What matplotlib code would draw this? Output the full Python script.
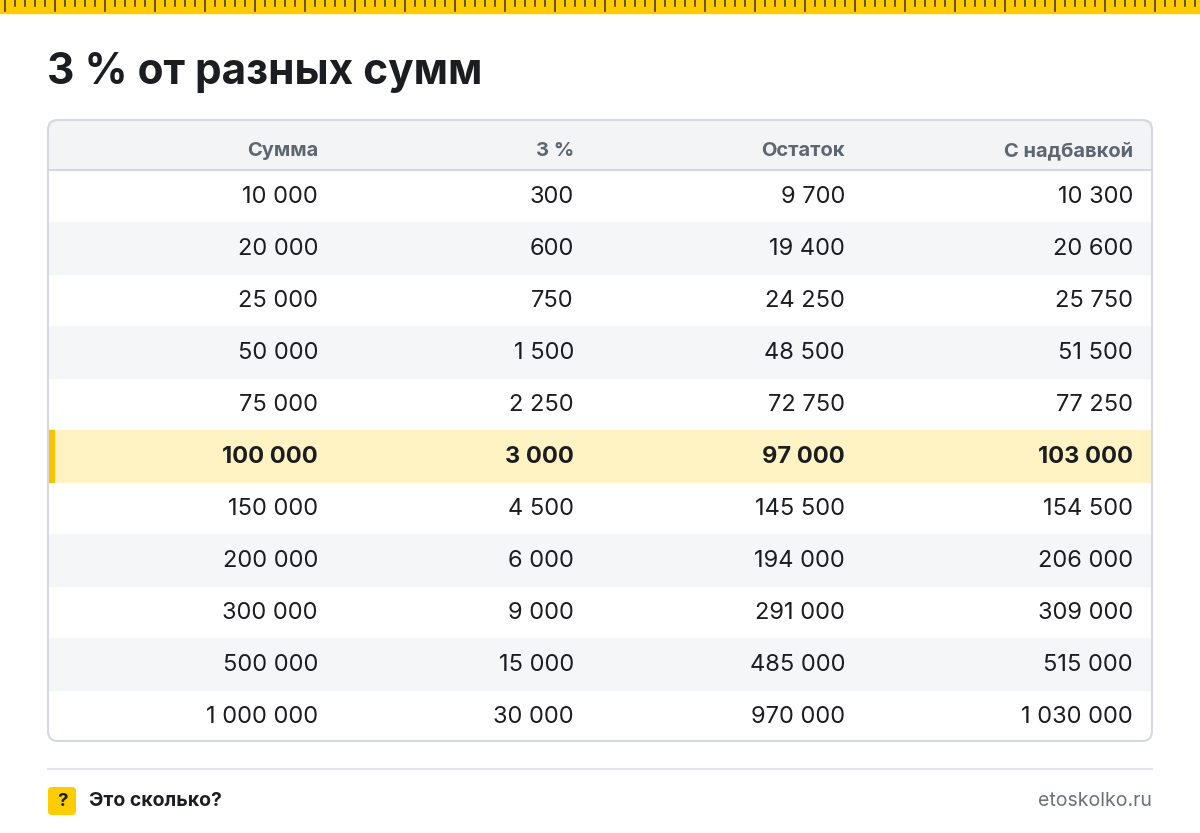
import matplotlib.pyplot as plt
from matplotlib.patches import FancyBboxPatch, Rectangle

plt.rcParams['font.family'] = ['Inter', 'DejaVu Sans']

title = '3 % от разных сумм'
columns = ['Сумма', '3 %', 'Остаток', 'С надбавкой']
summa = [10000, 20000, 25000, 50000, 75000, 100000, 150000, 200000, 300000, 500000, 1000000]
pct = [300, 600, 750, 1500, 2250, 3000, 4500, 6000, 9000, 15000, 30000]
ostatok = [9700, 19400, 24250, 48500, 72750, 97000, 145500, 194000, 291000, 485000, 970000]
nadbavka = [10300, 20600, 25750, 51500, 77250, 103000, 154500, 206000, 309000, 515000, 1030000]
highlight = 100000


def fmt(v):
    return f'{v:,}'.replace(',', ' ')


fig = plt.figure(figsize=(12, 8.33), dpi=100)
ax = fig.add_axes([0, 0, 1, 1])
ax.set_xlim(0, 1200)
ax.set_ylim(833, 0)
ax.axis('off')

# ruler strip
ax.add_patch(Rectangle((0, 0), 1200, 13, color='#FFCC00', zorder=1))
for x in range(5, 1200, 10):
    h = 11 if (x - 5) % 50 == 0 else 6
    ax.plot([x, x], [0, h], color='#4a3d10', lw=1.2, zorder=2)

ax.text(47, 72, title, fontsize=30.5, fontweight='bold', color='#1c1d21', va='center')

# table box
left, right, top, bottom = 48, 1152, 120, 741
ax.add_patch(FancyBboxPatch((left, top), right - left, bottom - top,
                            boxstyle='round,pad=0,rounding_size=10',
                            fc='white', ec='none', zorder=1))
ax.add_patch(Rectangle((left + 1, top + 1), right - left - 2, 49, color='#F3F4F6', zorder=2))
ax.plot([left, right], [170, 170], color='#D5D8DE', lw=1.5, zorder=3)
col_x = [318, 574, 845, 1133]
for x, c in zip(col_x, columns):
    ax.text(x, 151, c, fontsize=14.5, fontweight='bold', color='#5F6670',
            ha='right', va='center', zorder=4)

row_h = 52
for i, row in enumerate(zip(summa, pct, ostatok, nadbavka)):
    y0 = 170 + i * row_h
    bold = row[0] == highlight
    if bold:
        ax.add_patch(Rectangle((left + 1, y0), right - left - 2, row_h, color='#FFF3C4', zorder=2))
        ax.add_patch(Rectangle((left, y0), 6, row_h, color='#F5C400', zorder=3))
    elif i % 2 == 1:
        ax.add_patch(Rectangle((left + 1, y0), right - left - 2, row_h, color='#F5F6F8', zorder=2))
    for x, v in zip(col_x, row):
        ax.text(x, y0 + row_h / 2 + 1, fmt(v), fontsize=17, ha='right', va='center',
                fontweight='bold' if bold else 'normal', color='#1c1d21', zorder=4)

ax.add_patch(FancyBboxPatch((left, top), right - left, bottom - top,
                            boxstyle='round,pad=0,rounding_size=10',
                            fc='none', ec='#D5D8DE', lw=1.5, zorder=5))

# footer
ax.plot([48, 1152], [769, 769], color='#E3E5E9', lw=1.5)
ax.add_patch(FancyBboxPatch((48, 787), 28, 28, boxstyle='round,pad=0,rounding_size=4',
                            fc='#FFCC00', ec='none'))
ax.text(62, 802, '?', fontsize=13.5, fontweight='bold', ha='center', va='center', color='#1c1d21')
ax.text(89, 801, 'Это сколько?', fontsize=14, fontweight='bold', va='center', color='#1c1d21')
ax.text(1152, 801, 'etoskolko.ru', fontsize=14, ha='right', va='center', color='#6b7079')

fig.savefig('out.png', dpi=100)
